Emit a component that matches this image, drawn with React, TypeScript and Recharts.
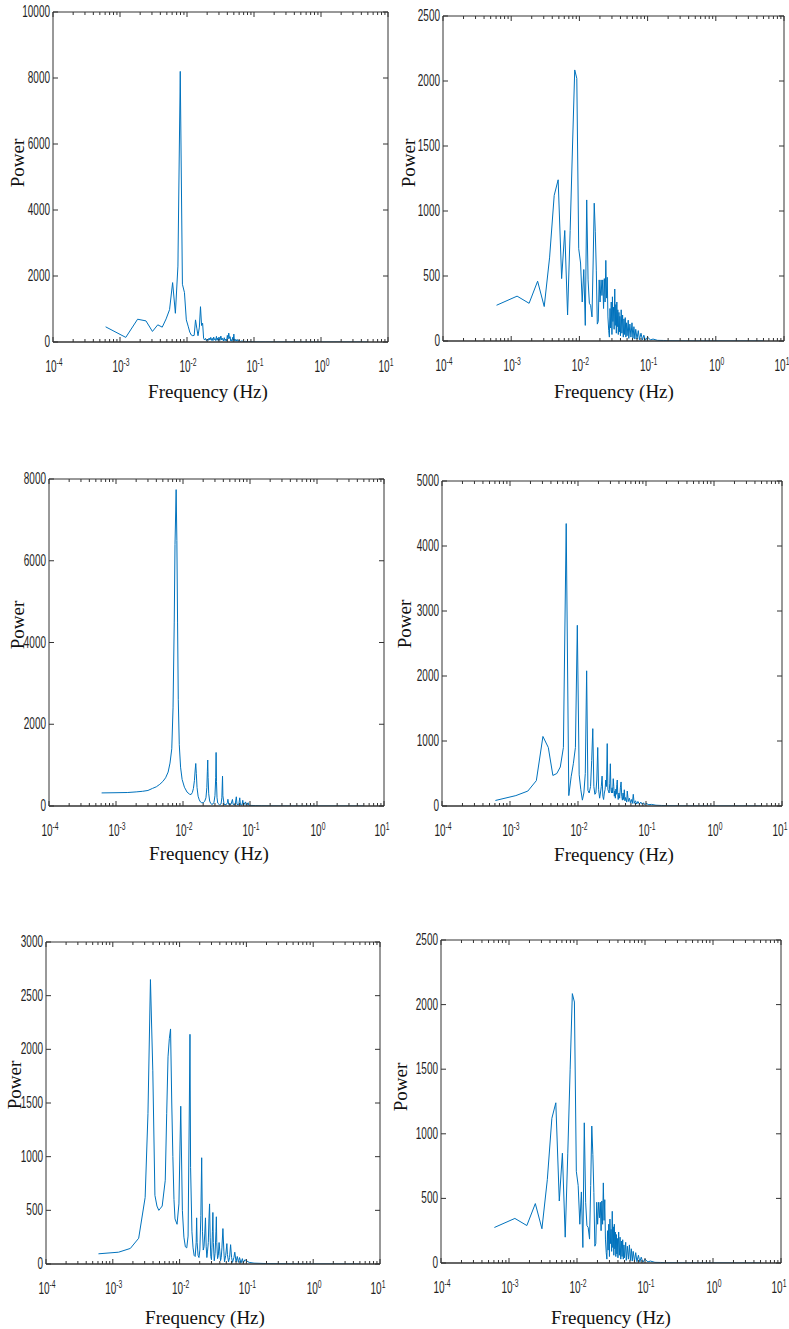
import React from "react";
import { LineChart, Line, XAxis, YAxis } from "recharts";

type Pt = [number, number];

// log x axis: decades and their exponent labels
const xMajor = [1e-4, 1e-3, 1e-2, 1e-1, 1, 10];
const xExponents = ["-4", "-3", "-2", "-1", "0", "1"];
const xMinorSteps = [2, 3, 4, 5, 6, 7, 8, 9];

const p1YTicks = [0, 2000, 4000, 6000, 8000, 10000];
const p2YTicks = [0, 500, 1000, 1500, 2000, 2500];
const p3YTicks = [0, 2000, 4000, 6000, 8000];
const p4YTicks = [0, 1000, 2000, 3000, 4000, 5000];
const p5YTicks = [0, 500, 1000, 1500, 2000, 2500, 3000];
const p6YTicks = [0, 500, 1000, 1500, 2000, 2500];

// [frequency Hz, power]
const p1Spectrum: Pt[] = [
  [0.00061, 460], [0.00122, 140], [0.00183, 690], [0.00244, 640], [0.00305, 320],
  [0.00366, 520], [0.00427, 450], [0.00488, 700], [0.00549, 980], [0.0061, 1800],
  [0.00671, 870], [0.00732, 2300], [0.00793, 8200], [0.00854, 1750], [0.00916, 1500],
  [0.00977, 670], [0.0104, 480], [0.011, 300], [0.0116, 210], [0.0122, 190],
  [0.0128, 200], [0.0134, 670], [0.014, 420], [0.0146, 190], [0.0153, 450],
  [0.0159, 1070], [0.0165, 500], [0.0171, 570], [0.0177, 110], [0.0183, 60],
  [0.0189, 110], [0.0195, 40], [0.0201, 90], [0.0208, 50], [0.0214, 120],
  [0.022, 60], [0.0226, 140], [0.0232, 50], [0.0238, 110], [0.0244, 40],
  [0.025, 150], [0.0256, 70], [0.0262, 100], [0.0269, 40], [0.0275, 170],
  [0.0281, 60], [0.0287, 120], [0.0293, 40], [0.03, 150], [0.031, 50],
  [0.032, 180], [0.033, 60], [0.034, 110], [0.035, 30], [0.036, 130],
  [0.037, 40], [0.038, 90], [0.039, 30], [0.04, 200], [0.041, 90],
  [0.042, 270], [0.043, 110], [0.044, 160], [0.045, 30], [0.046, 70],
  [0.047, 20], [0.048, 140], [0.049, 50], [0.05, 240], [0.051, 40],
  [0.052, 90], [0.054, 20], [0.056, 80], [0.058, 15], [0.06, 60],
  [0.063, 10], [0.066, 35], [0.07, 8], [0.075, 20], [0.08, 5],
  [0.09, 12], [0.1, 4], [0.15, 3], [0.3, 2], [1, 1], [5, 1],
];

const p2Spectrum: Pt[] = [
  [0.00061, 275], [0.00122, 345], [0.00183, 290], [0.00244, 460], [0.00305, 265],
  [0.00366, 645], [0.00427, 1120], [0.00488, 1240], [0.00549, 480], [0.0061, 850],
  [0.00671, 200], [0.00732, 850], [0.00793, 1500], [0.00854, 2085], [0.00916, 2020],
  [0.00977, 710], [0.0104, 600], [0.011, 300], [0.0116, 550], [0.0122, 120],
  [0.0128, 1085], [0.0134, 470], [0.014, 290], [0.0146, 275], [0.0153, 185],
  [0.0159, 600], [0.0165, 1060], [0.0171, 840], [0.0177, 545], [0.0183, 130],
  [0.0189, 150], [0.0195, 470], [0.0201, 300], [0.0208, 470], [0.0214, 350],
  [0.022, 470], [0.0226, 250], [0.0232, 480], [0.0238, 300], [0.0244, 620],
  [0.025, 330], [0.0256, 490], [0.0262, 185], [0.0269, 80], [0.0275, 30],
  [0.0281, 250], [0.0287, 100], [0.0293, 300], [0.03, 50], [0.0305, 340],
  [0.031, 150], [0.0317, 260], [0.0323, 90], [0.033, 400], [0.0336, 120],
  [0.0342, 280], [0.0348, 60], [0.0354, 300], [0.036, 110], [0.0366, 240],
  [0.0372, 50], [0.038, 220], [0.0386, 70], [0.0392, 190], [0.04, 40],
  [0.041, 240], [0.042, 60], [0.043, 200], [0.044, 30], [0.045, 170],
  [0.046, 50], [0.047, 180], [0.048, 30], [0.049, 140], [0.05, 40],
  [0.052, 160], [0.053, 20], [0.055, 130], [0.057, 30], [0.059, 140],
  [0.061, 20], [0.063, 110], [0.065, 15], [0.067, 90], [0.07, 15],
  [0.073, 80], [0.076, 10], [0.08, 60], [0.084, 8], [0.088, 45],
  [0.093, 6], [0.1, 30], [0.11, 8], [0.12, 15], [0.14, 5],
  [0.17, 4], [0.2, 2], [0.5, 1], [1, 1], [5, 0.5],
];

const p3Spectrum: Pt[] = [
  [0.00061, 320], [0.001, 325], [0.0015, 330], [0.002, 345], [0.0025, 360],
  [0.003, 380], [0.0035, 430], [0.004, 470], [0.0045, 530], [0.005, 600],
  [0.0055, 690], [0.006, 830], [0.0064, 1050], [0.0068, 1400], [0.0071, 2400],
  [0.0074, 4500], [0.0076, 6400], [0.0079, 7740], [0.0081, 6500], [0.0083, 4500],
  [0.0085, 2600], [0.0088, 1500], [0.0092, 950], [0.0097, 650], [0.0105, 460],
  [0.0115, 340], [0.0125, 290], [0.0132, 280], [0.0138, 330], [0.0143, 430],
  [0.0148, 620], [0.0152, 880], [0.0155, 1040], [0.0158, 800], [0.0162, 450],
  [0.0168, 240], [0.0175, 150], [0.0182, 100], [0.019, 80], [0.02, 80],
  [0.021, 110], [0.022, 200], [0.0227, 450], [0.0231, 850], [0.0234, 1125],
  [0.0237, 700], [0.0242, 300], [0.025, 120], [0.026, 60], [0.027, 40],
  [0.028, 50], [0.029, 90], [0.03, 250], [0.0308, 700], [0.0312, 1310],
  [0.0316, 600], [0.0322, 200], [0.033, 70], [0.035, 30], [0.037, 50],
  [0.038, 200], [0.0389, 730], [0.0394, 250], [0.041, 40], [0.044, 30],
  [0.046, 80], [0.0468, 165], [0.048, 40], [0.052, 40], [0.0547, 160],
  [0.056, 40], [0.06, 30], [0.0625, 225], [0.064, 40], [0.068, 30],
  [0.0703, 200], [0.072, 30], [0.076, 20], [0.078, 140], [0.08, 20],
  [0.086, 100], [0.088, 15], [0.094, 80], [0.096, 10], [0.1, 15],
  [0.12, 10], [0.15, 5], [0.3, 2], [1, 1], [5, 0.5],
];

const p4Spectrum: Pt[] = [
  [0.00061, 85], [0.00122, 160], [0.00183, 230], [0.00244, 390], [0.00305, 1070],
  [0.00366, 900], [0.00427, 470], [0.00488, 500], [0.00549, 600], [0.0061, 900],
  [0.00671, 4345], [0.00732, 160], [0.00793, 450], [0.00854, 650], [0.00916, 900],
  [0.00977, 2780], [0.0104, 480], [0.011, 250], [0.0116, 90], [0.0122, 200],
  [0.0128, 500], [0.0134, 2080], [0.014, 240], [0.0146, 200], [0.0153, 300],
  [0.0159, 700], [0.0165, 1190], [0.0171, 300], [0.0177, 180], [0.0183, 200],
  [0.0189, 400], [0.0195, 900], [0.0201, 250], [0.0208, 120], [0.0214, 200],
  [0.022, 300], [0.0226, 460], [0.0232, 150], [0.0238, 100], [0.0244, 200],
  [0.025, 250], [0.0256, 400], [0.0262, 300], [0.0269, 960], [0.0275, 250],
  [0.0281, 230], [0.0287, 200], [0.0293, 350], [0.0299, 650], [0.0305, 250],
  [0.0311, 200], [0.0317, 280], [0.0323, 200], [0.033, 420], [0.0336, 300],
  [0.0342, 150], [0.0348, 230], [0.0354, 120], [0.036, 260], [0.0366, 180],
  [0.0372, 330], [0.0378, 400], [0.0384, 180], [0.039, 100], [0.04, 200],
  [0.041, 120], [0.042, 280], [0.043, 370], [0.044, 150], [0.045, 90],
  [0.046, 200], [0.047, 100], [0.048, 250], [0.049, 80], [0.05, 130],
  [0.052, 60], [0.053, 230], [0.055, 70], [0.057, 120], [0.059, 50],
  [0.061, 100], [0.063, 40], [0.065, 180], [0.067, 40], [0.07, 80],
  [0.073, 30], [0.076, 70], [0.08, 30], [0.084, 60], [0.088, 25],
  [0.092, 50], [0.096, 20], [0.1, 40], [0.11, 20], [0.12, 25],
  [0.14, 12], [0.17, 8], [0.2, 5], [0.3, 3], [0.5, 2], [1, 1], [5, 0.5],
];

const p5Spectrum: Pt[] = [
  [0.00061, 95], [0.00122, 110], [0.00183, 145], [0.00244, 240], [0.00305, 620],
  [0.00336, 1400], [0.00366, 2650], [0.00397, 1800], [0.00427, 640], [0.00458, 540],
  [0.00488, 500], [0.00519, 520], [0.00549, 540], [0.0061, 780], [0.00641, 1400],
  [0.00671, 1930], [0.00702, 2100], [0.00732, 2190], [0.00763, 1500], [0.00793, 1000],
  [0.00824, 600], [0.00854, 420], [0.00916, 370], [0.00977, 560], [0.0104, 1470],
  [0.011, 500], [0.0116, 250], [0.0122, 160], [0.0128, 150], [0.0134, 260],
  [0.014, 1500], [0.0143, 2140], [0.0146, 900], [0.0153, 300], [0.0159, 150],
  [0.0165, 80], [0.0171, 70], [0.0177, 200], [0.018, 430], [0.0183, 200],
  [0.0189, 80], [0.0195, 60], [0.0201, 130], [0.0208, 450], [0.0214, 990],
  [0.022, 300], [0.0226, 130], [0.0232, 160], [0.0238, 280], [0.0244, 430],
  [0.025, 160], [0.0256, 60], [0.0262, 120], [0.0269, 200], [0.0275, 420],
  [0.0281, 560], [0.0287, 250], [0.0293, 70], [0.03, 40], [0.0305, 150],
  [0.031, 300], [0.0315, 480], [0.032, 200], [0.033, 30], [0.034, 100],
  [0.035, 300], [0.0355, 440], [0.036, 200], [0.037, 50], [0.038, 80],
  [0.039, 200], [0.04, 120], [0.041, 30], [0.042, 60], [0.043, 150],
  [0.0445, 330], [0.046, 120], [0.047, 20], [0.049, 80], [0.051, 190],
  [0.052, 90], [0.054, 20], [0.056, 60], [0.058, 180], [0.06, 60],
  [0.062, 15], [0.065, 60], [0.067, 110], [0.07, 20], [0.073, 70],
  [0.076, 15], [0.079, 60], [0.083, 10], [0.087, 50], [0.09, 10],
  [0.095, 40], [0.1, 30], [0.11, 15], [0.13, 8], [0.2, 4],
  [0.5, 2], [1, 1], [5, 0.5],
];

// bottom-right panel repeats the top-right spectrum
const p6Spectrum: Pt[] = p2Spectrum;

const AXIS = "#333";
const TEXT = "#1f1f1f";
const LINE = "#0072BD";
const TICK_FONT = "'Liberation Sans', Arial, sans-serif";
const TITLE_FONT = "'Liberation Serif', 'Times New Roman', serif";

const xTicksAll = xMajor
  .slice(0, -1)
  .flatMap((m) => [m, ...xMinorSteps.map((s) => m * s)])
  .concat([xMajor[xMajor.length - 1]]);

const majorIndex = (v: number) => xMajor.findIndex((m) => Math.abs(m - v) / m < 1e-6);

const BottomTick = (props: any) => {
  const { x, y, payload } = props;
  const idx = majorIndex(payload.value);
  const major = idx >= 0;
  // pull the last label in a little so it stays on the page
  const shift = idx === xMajor.length - 1 ? -2 : 1;
  return (
    <g>
      <line x1={x} y1={y} x2={x} y2={y - (major ? 5 : 3)} stroke={AXIS} strokeWidth={1} />
      {major && (
        <g transform={`translate(${x + shift},${y + 30}) scale(0.8,1.3)`}>
          <text textAnchor="middle" fontFamily={TICK_FONT} fontSize={12.5} fill={TEXT}>
            10
            <tspan fontSize={8.5} dy={-5}>
              {xExponents[idx]}
            </tspan>
          </text>
        </g>
      )}
    </g>
  );
};

const TopTick = (props: any) => {
  const { x, y, payload } = props;
  const major = majorIndex(payload.value) >= 0;
  return <line x1={x} y1={y} x2={x} y2={y + (major ? 5 : 3)} stroke={AXIS} strokeWidth={1} />;
};

const LeftTick = (props: any) => {
  const { x, y, payload } = props;
  return (
    <g>
      <line x1={x} y1={y} x2={x + 5} y2={y} stroke={AXIS} strokeWidth={1} />
      <g transform={`translate(${x - 3},${y + 5}) scale(0.8,1.3)`}>
        <text textAnchor="end" fontFamily={TICK_FONT} fontSize={12.5} fill={TEXT}>
          {payload.value}
        </text>
      </g>
    </g>
  );
};

const RightTick = (props: any) => {
  const { x, y } = props;
  return <line x1={x} y1={y} x2={x - 5} y2={y} stroke={AXIS} strokeWidth={1} />;
};

interface PanelCfg {
  x0: number;
  y0: number;
  w: number;
  h: number;
  L: number;
  T: number;
  R: number;
  B: number;
  yTicks: number[];
  data: Pt[];
  power: [number, number];
  freq: [number, number];
}

const panels: PanelCfg[] = [
  { x0: 0, y0: 0, w: 404, h: 410, L: 53, T: 12, R: 388, B: 342, yTicks: p1YTicks, data: p1Spectrum, power: [16.5, 163], freq: [208, 391] },
  { x0: 392, y0: 0, w: 397, h: 410, L: 443, T: 16, R: 784, B: 341, yTicks: p2YTicks, data: p2Spectrum, power: [408, 163], freq: [614, 391] },
  { x0: 0, y0: 455, w: 404, h: 415, L: 49, T: 479, R: 384, B: 806, yTicks: p3YTicks, data: p3Spectrum, power: [16.5, 625], freq: [209, 853] },
  { x0: 392, y0: 455, w: 397, h: 415, L: 442, T: 481, R: 782, B: 806, yTicks: p4YTicks, data: p4Spectrum, power: [404, 624], freq: [614, 854] },
  { x0: 0, y0: 925, w: 404, h: 404, L: 46, T: 942, R: 380, B: 1264, yTicks: p5YTicks, data: p5Spectrum, power: [13.5, 1085], freq: [205, 1317] },
  { x0: 392, y0: 925, w: 397, h: 404, L: 441, T: 940, R: 781, B: 1263, yTicks: p6YTicks, data: p6Spectrum, power: [400, 1087], freq: [611, 1317] },
];

const X_AXIS_H = 40;
const EDGE = 1; // size of the top / right frame axes

function Panel({ cfg }: { cfg: PanelCfg }) {
  const { x0, y0, w, h, L, T, R, B, yTicks, data } = cfg;
  const rows = data.map(([f, p]) => ({ f, p }));
  const yMax = yTicks[yTicks.length - 1];
  const titleStyle: React.CSSProperties = {
    position: "absolute",
    fontFamily: TITLE_FONT,
    fontSize: 19,
    lineHeight: "19px",
    color: "#111",
    whiteSpace: "nowrap",
  };
  return (
    <>
      <div style={{ position: "absolute", left: x0, top: y0 }}>
        <LineChart
          width={w}
          height={h}
          data={rows}
          margin={{
            top: T - y0 - EDGE,
            right: x0 + w - R - EDGE,
            bottom: y0 + h - B - X_AXIS_H,
            left: 0,
          }}
        >
          <XAxis
            xAxisId="b"
            dataKey="f"
            type="number"
            scale="log"
            domain={[1e-4, 10]}
            allowDataOverflow
            ticks={xTicksAll}
            interval={0}
            height={X_AXIS_H}
            tick={<BottomTick />}
            tickLine={false}
            tickSize={0}
            tickMargin={0}
            axisLine={{ stroke: AXIS, strokeWidth: 1.3 }}
          />
          <XAxis
            xAxisId="t"
            orientation="top"
            dataKey="f"
            type="number"
            scale="log"
            domain={[1e-4, 10]}
            allowDataOverflow
            ticks={xTicksAll}
            interval={0}
            height={EDGE}
            tick={<TopTick />}
            tickLine={false}
            tickSize={0}
            tickMargin={0}
            axisLine={{ stroke: AXIS }}
          />
          <YAxis
            yAxisId="l"
            type="number"
            domain={[0, yMax]}
            allowDataOverflow
            ticks={yTicks}
            interval={0}
            width={L - x0}
            tick={<LeftTick />}
            tickLine={false}
            tickSize={0}
            tickMargin={0}
            axisLine={{ stroke: AXIS }}
          />
          <YAxis
            yAxisId="r"
            orientation="right"
            type="number"
            domain={[0, yMax]}
            allowDataOverflow
            ticks={yTicks}
            interval={0}
            width={EDGE}
            tick={<RightTick />}
            tickLine={false}
            tickSize={0}
            tickMargin={0}
            axisLine={{ stroke: AXIS }}
          />
          <Line
            xAxisId="b"
            yAxisId="l"
            dataKey="p"
            type="linear"
            stroke={LINE}
            strokeWidth={1}
            dot={false}
            isAnimationActive={false}
          />
        </LineChart>
      </div>
      <div
        style={{
          ...titleStyle,
          left: cfg.freq[0],
          top: cfg.freq[1],
          transform: "translate(-50%, -50%)",
        }}
      >
        Frequency (Hz)
      </div>
      <div
        style={{
          ...titleStyle,
          left: cfg.power[0],
          top: cfg.power[1],
          transform: "translate(-50%, -50%) rotate(-90deg)",
        }}
      >
        Power
      </div>
    </>
  );
}

export default function App() {
  return (
    <div
      style={{
        position: "absolute",
        left: 0,
        top: 0,
        width: 789,
        height: 1329,
        background: "#fff",
        overflow: "hidden",
      }}
    >
      {panels.map((cfg, i) => (
        <Panel key={i} cfg={cfg} />
      ))}
    </div>
  );
}
